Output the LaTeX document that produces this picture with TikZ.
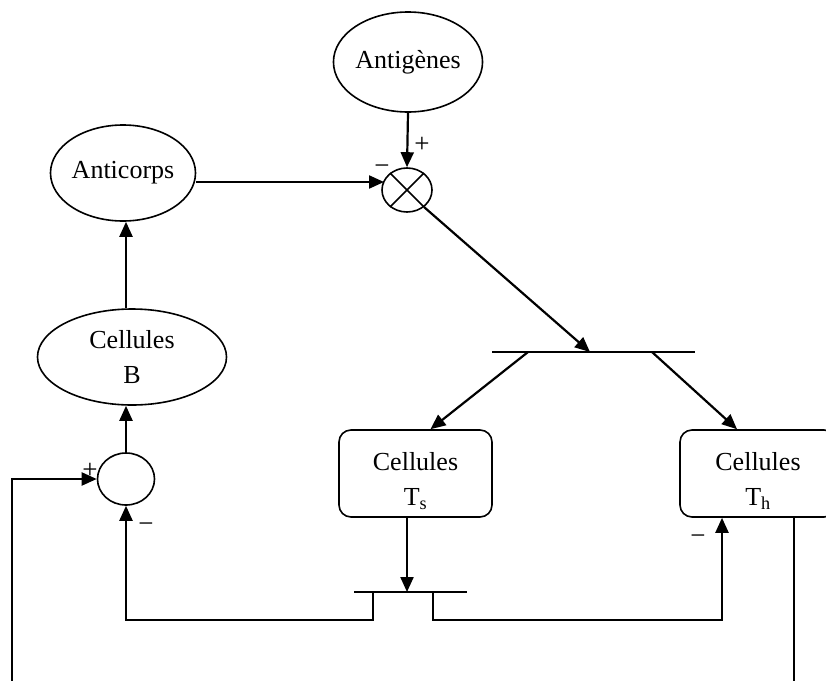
\documentclass[tikz,border=0pt]{standalone}
\usepackage{fontspec}
\setmainfont{Liberation Serif}
\usetikzlibrary{shapes.geometric,arrows.meta,calc}
\begin{document}
\begin{tikzpicture}[x=1pt,y=-1pt,
 lbl/.style={font=\fontsize{26}{35}\selectfont, align=center, inner sep=0pt},
 ell/.style={ellipse, draw, line width=1.6pt, inner sep=0pt, lbl},
 rbox/.style={rectangle, rounded corners=12pt, draw, line width=1.6pt, inner sep=0pt},
 ln/.style={line width=2.2pt},
 arr/.style={ln, -{Triangle[length=15pt,width=13pt]}},
 sgn/.style={font=\fontsize{27}{30}\selectfont, inner sep=0pt},
]
\useasboundingbox (0,0) rectangle (826,680);

% nodes
\node[ell, minimum width=137pt, minimum height=100pt] (ag) at (408,62) {Antigènes};
\node[ell, minimum width=134pt, minimum height=96pt] (ac) at (123,173) {Anticorps};
\node[ell, minimum width=189pt, minimum height=96pt] (b) at (132,357) {Cellules\\B};
\node[ellipse, draw, line width=1.6pt, inner sep=0pt, minimum width=50pt, minimum height=44pt] (mul) at (407,190) {};
\node[ellipse, draw, line width=1.6pt, inner sep=0pt, minimum width=57pt, minimum height=52pt] (sum) at (126,479) {};
\node[rbox, minimum width=153pt, minimum height=87pt] (ts) at (415.5,473.5) {};
\node[lbl] (tsl) at (415.5,481) {Cellules\\T\textsubscript{s}};
\node[rbox, minimum width=156pt, minimum height=87pt] (th) at (758,473.5) {};
\node[lbl] (thl) at (758,481) {Cellules\\T\textsubscript{h}};

% multiplier cross
\draw[line width=1.6pt] (mul.45) -- (mul.225) (mul.135) -- (mul.315);

% coordinates
\coordinate (mulin) at (384,182);
\coordinate (bartip) at (590,352);
\coordinate (barL) at (492,352);
\coordinate (barR) at (695,352);
\coordinate (brL) at (528,352);
\coordinate (brR) at (652,352);
\coordinate (jt) at (407,592);
\coordinate (jL) at (354,592);
\coordinate (jR) at (467,592);
\coordinate (jlt) at (373,592);
\coordinate (jlb) at (373,620);
\coordinate (jrt) at (433,592);
\coordinate (jrb) at (433,620);
\coordinate (thx) at ($(th.south)+(-36,0)$);
\coordinate (fbR) at (794,684);
\coordinate (fbL) at (12,684);

% connectors
\draw[arr] (ag.south) -- (mul.north);
\draw[arr] (ac.east |- mulin) -- (mulin);
\draw[arr] (mul.315) -- (bartip);
\draw[ln] (barL) -- (barR);
\draw[arr] (brL) -- ($(ts.north)+(15,0)$);
\draw[arr] (brR) -- ($(th.north)+(-21,0)$);
\draw[arr] (sum.north) -- (sum.north |- b.south);
\draw[arr] (sum.north |- b.north) -- (sum.north |- ac.south);
\draw[arr] (ts.south -| jt) -- (jt);
\draw[ln] (jL) -- (jR);
\draw[arr] (jlt) -- (jlb) -- (sum.south |- jlb) -- (sum.south);
\draw[arr] (jrt) -- (jrb) -- (thx |- jrb) -- (thx);
\draw[line width=1.8pt] (th.south -| fbR) -- (fbR);
\draw[arr] (fbL) -- (fbL |- sum.west) -- (sum.west);

% signs
\node[sgn] (p1) at (422,145) {+};
\node[sgn] (m1) at (382,170) {−};
\node[sgn] (p2) at (90,471) {+};
\node[sgn] (m2) at (146,528) {−};
\node[sgn] (m3) at (698,540) {−};
\end{tikzpicture}
\end{document}
